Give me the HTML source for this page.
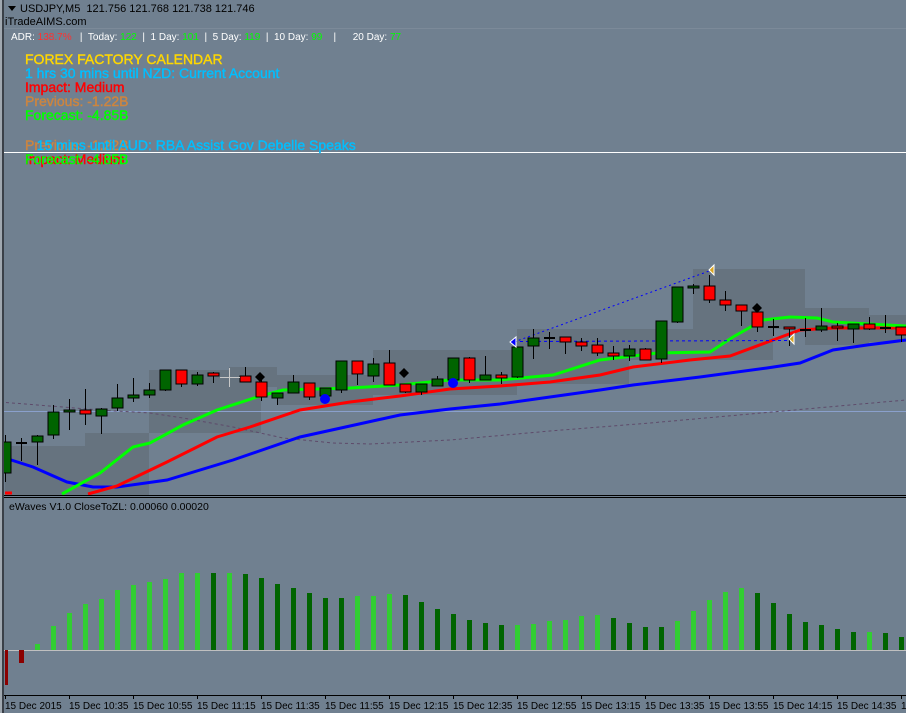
<!DOCTYPE html>
<html><head><meta charset="utf-8"><style>
html,body{margin:0;padding:0;background:#708090;overflow:hidden}
svg{display:block}
text{font-family:"Liberation Sans",Arial,sans-serif;white-space:pre}
</style></head><body>
<svg width="906" height="713" viewBox="0 0 906 713" xmlns="http://www.w3.org/2000/svg" xml:space="preserve">
<rect width="906" height="713" fill="#708090"/>
<g fill="#66737f">
<rect x="5" y="446" width="80" height="49"/>
<rect x="85" y="433" width="64" height="62"/>
<rect x="149" y="370" width="112" height="63"/>
<rect x="229" y="367" width="48" height="20"/>
<rect x="277" y="375" width="96" height="30"/>
<rect x="373" y="350" width="144" height="45"/>
<rect x="517" y="329" width="112" height="55"/>
<rect x="629" y="329" width="144" height="31"/>
<rect x="693" y="269" width="112" height="60"/>
<rect x="805" y="308" width="64" height="37"/>
<rect x="869" y="315" width="37" height="27"/>
</g>
<line x1="4" y1="28.5" x2="906" y2="28.5" stroke="#7c8a99" stroke-width="1"/>
<line x1="0" y1="152.5" x2="906" y2="152.5" stroke="#ffffff" stroke-width="1"/>
<line x1="0" y1="411.5" x2="906" y2="411.5" stroke="#8aa0cc" stroke-width="1"/>
<polyline fill="none" stroke="#5e4a6a" stroke-width="1" stroke-dasharray="3,3" points="0,402 100,410 150,413 183,418 233,427 283,438 333,443 370,444 450,440 550,431 650,423 750,414 850,405 906,400"/>
<polyline fill="none" stroke="#0000ff" stroke-width="3" points="5,458 33,467 67,482 93,487 117,487 167,480 233,460 300,437 350,426 400,415 450,409 500,404 550,397 600,390 633,385 700,377 767,368 800,363 833,350 867,345 906,340"/>
<polyline fill="none" stroke="#ff0000" stroke-width="3" points="88,494 117,486 167,462 217,437 250,427 300,410 350,402 400,396 450,389 500,386 550,382 600,375 633,367 690,360 730,356 773,340 800,330 833,328 906,328"/>
<line x1="5" y1="493" x2="12" y2="493" stroke="#ff0000" stroke-width="3"/>
<polyline fill="none" stroke="#00ff00" stroke-width="3" points="62,494 100,473 133,447 150,443 183,425 217,410 257,397 283,390 350,388 400,385 450,380 500,380 553,375 600,360 657,353 710,352 733,337 763,320 790,317 817,318 833,322 906,326"/>
<line x1="514" y1="342" x2="712" y2="270" stroke="#0000ff" stroke-width="1" stroke-dasharray="2,3"/>
<line x1="514" y1="341.5" x2="790" y2="340.5" stroke="#0000ff" stroke-width="1" stroke-dasharray="3,3"/>
<g stroke="#000" stroke-width="1">
<line x1="5.5" y1="435" x2="5.5" y2="482"/><rect x="0" y="442" width="11" height="31" fill="#006400"/>
<line x1="21.5" y1="438" x2="21.5" y2="461"/><line x1="16" y1="443" x2="27" y2="443" stroke-width="2"/>
<line x1="37.5" y1="435" x2="37.5" y2="465"/><rect x="32" y="436" width="11" height="6" fill="#006400"/>
<line x1="53.5" y1="405" x2="53.5" y2="439"/><rect x="48" y="412" width="11" height="23" fill="#006400"/>
<line x1="69.5" y1="399" x2="69.5" y2="430"/><rect x="64" y="410" width="11" height="2" fill="#006400"/>
<line x1="85.5" y1="389" x2="85.5" y2="425"/><rect x="80" y="410" width="11" height="4" fill="#ff0000"/>
<line x1="101.5" y1="408" x2="101.5" y2="434"/><rect x="96" y="409" width="11" height="7" fill="#006400"/>
<line x1="117.5" y1="384" x2="117.5" y2="411"/><rect x="112" y="398" width="11" height="10" fill="#006400"/>
<line x1="133.5" y1="378" x2="133.5" y2="402"/><rect x="128" y="395" width="11" height="3" fill="#006400"/>
<line x1="149.5" y1="383" x2="149.5" y2="398"/><rect x="144" y="390" width="11" height="5" fill="#006400"/>
<line x1="165.5" y1="370" x2="165.5" y2="391"/><rect x="160" y="370" width="11" height="20" fill="#006400"/>
<line x1="181.5" y1="370" x2="181.5" y2="387"/><rect x="176" y="370" width="11" height="14" fill="#ff0000"/>
<line x1="197.5" y1="372" x2="197.5" y2="386"/><rect x="192" y="375" width="11" height="9" fill="#006400"/>
<line x1="213.5" y1="372" x2="213.5" y2="383"/><rect x="208" y="373" width="11" height="3" fill="#ff0000"/>
<line x1="245.5" y1="367" x2="245.5" y2="382"/><rect x="240" y="376" width="11" height="6" fill="#ff0000"/>
<line x1="261.5" y1="377" x2="261.5" y2="401"/><rect x="256" y="382" width="11" height="15" fill="#ff0000"/>
<line x1="277.5" y1="393" x2="277.5" y2="405"/><rect x="272" y="393" width="11" height="5" fill="#006400"/>
<line x1="293.5" y1="375" x2="293.5" y2="393"/><rect x="288" y="382" width="11" height="11" fill="#006400"/>
<line x1="309.5" y1="383" x2="309.5" y2="400"/><rect x="304" y="383" width="11" height="14" fill="#ff0000"/>
<line x1="325.5" y1="388" x2="325.5" y2="396"/><rect x="320" y="388" width="11" height="8" fill="#006400"/>
<line x1="341.5" y1="361" x2="341.5" y2="393"/><rect x="336" y="361" width="11" height="29" fill="#006400"/>
<line x1="357.5" y1="361" x2="357.5" y2="385"/><rect x="352" y="361" width="11" height="13" fill="#ff0000"/>
<line x1="373.5" y1="358" x2="373.5" y2="382"/><rect x="368" y="364" width="11" height="12" fill="#006400"/>
<line x1="389.5" y1="350" x2="389.5" y2="385"/><rect x="384" y="363" width="11" height="22" fill="#ff0000"/>
<line x1="405.5" y1="384" x2="405.5" y2="393"/><rect x="400" y="384" width="11" height="8" fill="#ff0000"/>
<line x1="421.5" y1="384" x2="421.5" y2="395"/><rect x="416" y="384" width="11" height="8" fill="#006400"/>
<line x1="437.5" y1="376" x2="437.5" y2="386"/><rect x="432" y="379" width="11" height="7" fill="#006400"/>
<line x1="453.5" y1="358" x2="453.5" y2="380"/><rect x="448" y="358" width="11" height="22" fill="#006400"/>
<line x1="469.5" y1="357" x2="469.5" y2="383"/><rect x="464" y="358" width="11" height="22" fill="#ff0000"/>
<line x1="485.5" y1="356" x2="485.5" y2="380"/><rect x="480" y="375" width="11" height="5" fill="#006400"/>
<line x1="501.5" y1="372" x2="501.5" y2="384"/><rect x="496" y="375" width="11" height="3" fill="#ff0000"/>
<line x1="517.5" y1="347" x2="517.5" y2="378"/><rect x="512" y="347" width="11" height="30" fill="#006400"/>
<line x1="533.5" y1="329" x2="533.5" y2="359"/><rect x="528" y="338" width="11" height="8" fill="#006400"/>
<line x1="549.5" y1="332" x2="549.5" y2="349"/><line x1="544" y1="338" x2="555" y2="338" stroke-width="2"/>
<line x1="565.5" y1="337" x2="565.5" y2="354"/><rect x="560" y="337" width="11" height="5" fill="#ff0000"/>
<line x1="581.5" y1="338" x2="581.5" y2="351"/><rect x="576" y="342" width="11" height="4" fill="#ff0000"/>
<line x1="597.5" y1="338" x2="597.5" y2="356"/><rect x="592" y="345" width="11" height="8" fill="#ff0000"/>
<line x1="613.5" y1="346" x2="613.5" y2="360"/><rect x="608" y="353" width="11" height="3" fill="#ff0000"/>
<line x1="629.5" y1="345" x2="629.5" y2="361"/><rect x="624" y="349" width="11" height="7" fill="#006400"/>
<line x1="645.5" y1="348" x2="645.5" y2="360"/><rect x="640" y="349" width="11" height="11" fill="#ff0000"/>
<line x1="661.5" y1="321" x2="661.5" y2="363"/><rect x="656" y="321" width="11" height="38" fill="#006400"/>
<line x1="677.5" y1="287" x2="677.5" y2="323"/><rect x="672" y="287" width="11" height="35" fill="#006400"/>
<line x1="693.5" y1="284" x2="693.5" y2="294"/><rect x="688" y="286" width="11" height="2" fill="#006400"/>
<line x1="709.5" y1="275" x2="709.5" y2="303"/><rect x="704" y="286" width="11" height="14" fill="#ff0000"/>
<line x1="725.5" y1="291" x2="725.5" y2="311"/><rect x="720" y="300" width="11" height="5" fill="#ff0000"/>
<line x1="741.5" y1="305" x2="741.5" y2="326"/><rect x="736" y="305" width="11" height="6" fill="#ff0000"/>
<line x1="757.5" y1="304" x2="757.5" y2="332"/><rect x="752" y="312" width="11" height="15" fill="#ff0000"/>
<line x1="773.5" y1="319" x2="773.5" y2="336"/><line x1="768" y1="327" x2="779" y2="327" stroke-width="2"/>
<line x1="789.5" y1="327" x2="789.5" y2="346"/><rect x="784" y="327" width="11" height="2" fill="#ff0000"/>
<line x1="805.5" y1="318" x2="805.5" y2="337"/><line x1="800" y1="330" x2="811" y2="330" stroke-width="2"/>
<line x1="821.5" y1="308" x2="821.5" y2="332"/><rect x="816" y="326" width="11" height="4" fill="#006400"/>
<line x1="837.5" y1="323" x2="837.5" y2="341"/><rect x="832" y="326" width="11" height="2" fill="#ff0000"/>
<line x1="853.5" y1="324" x2="853.5" y2="343"/><rect x="848" y="324" width="11" height="5" fill="#006400"/>
<line x1="869.5" y1="317" x2="869.5" y2="330"/><rect x="864" y="324" width="11" height="5" fill="#ff0000"/>
<line x1="885.5" y1="315" x2="885.5" y2="333"/><line x1="880" y1="328" x2="891" y2="328" stroke-width="2"/>
<line x1="901.5" y1="327" x2="901.5" y2="342"/><rect x="896" y="327" width="11" height="8" fill="#ff0000"/>
</g>
<g stroke="#c8c8c8" stroke-width="1"><line x1="220" y1="377.5" x2="240" y2="377.5"/><line x1="229.5" y1="368" x2="229.5" y2="387"/></g>
<g fill="#000"><polygon points="260,372 265,377 260,382 255,377"/><polygon points="404,368 409,373 404,378 399,373"/><polygon points="757,303 762,308 757,313 752,308"/></g>
<circle cx="325" cy="399" r="5" fill="#0000ff"/>
<circle cx="453" cy="383" r="5" fill="#0000ff"/>
<polygon points="510,342 516,337 516,347" fill="#0000ff" stroke="#fff" stroke-width="1"/>
<polygon points="709,270 714,265 714,275" fill="#daa520" stroke="#fff" stroke-width="1"/>
<polygon points="789,339 794,334 794,344" fill="#daa520" stroke="#fff" stroke-width="1"/>
<polygon points="8,6 16,6 12,11" fill="#000"/>
<text x="20" y="12" font-size="11" fill="#000">USDJPY,M5  121.756 121.768 121.738 121.746</text>
<text x="5" y="25" font-size="11" fill="#000">iTradeAIMS.com</text>
<text x="11" y="40" font-size="10" fill="#fff">ADR: <tspan fill="#ff3030">138.7%</tspan>   |  Today: <tspan fill="#00ff00">122</tspan>  |  1 Day: <tspan fill="#00ff00">101</tspan>  |  5 Day: <tspan fill="#00ff00">119</tspan>  |  10 Day: <tspan fill="#00ff00">99</tspan>    |      20 Day: <tspan fill="#00ff00">77</tspan></text>
<g font-size="14" stroke-width="0.4">
<text x="25" y="64" fill="#ffd700" stroke="#ffd700">FOREX FACTORY CALENDAR</text>
<text x="25" y="78" fill="#00bfff" stroke="#00bfff">1 hrs 30 mins until NZD: Current Account</text>
<text x="25" y="92" fill="#ff0000" stroke="#ff0000">Impact: Medium</text>
<text x="25" y="106" fill="#cd853f" stroke="#cd853f">Previous: -1.22B</text>
<text x="25" y="120" fill="#00ff00" stroke="#00ff00">Forecast: -4.85B</text>
<text x="25" y="150" fill="#cd853f" stroke="#cd853f">Previous: -1.22B</text>
<text x="25" y="150" fill="#00bfff" stroke="#00bfff">   15 mins until AUD: RBA Assist Gov Debelle Speaks</text>
<text x="25" y="164" fill="#ff0000" stroke="#ff0000">Impact: Medium</text>
<text x="25" y="164" fill="#00ff00" stroke="#00ff00">Forecast: -4.85B</text>
</g>
<line x1="0" y1="495.5" x2="906" y2="495.5" stroke="#000"/>
<line x1="0" y1="497.5" x2="906" y2="497.5" stroke="#000"/>
<text x="9" y="510" font-size="10.5" fill="#000">eWaves V1.0 CloseToZL: 0.00060 0.00020</text>
<line x1="4" y1="650.5" x2="906" y2="650.5" stroke="#c0c0c0"/>
<g fill="#8b0000"><rect x="5" y="650" width="3" height="35"/><rect x="19" y="650" width="5" height="13"/></g>
<g fill="#32cd32">
<rect x="35" y="644" width="5" height="6"/><rect x="51" y="626" width="5" height="24"/><rect x="67" y="613" width="5" height="37"/><rect x="83" y="604" width="5" height="46"/><rect x="99" y="599" width="5" height="51"/><rect x="115" y="590" width="5" height="60"/><rect x="131" y="585" width="5" height="65"/><rect x="147" y="582" width="5" height="68"/><rect x="163" y="579" width="5" height="71"/><rect x="179" y="573" width="5" height="77"/><rect x="195" y="573" width="5" height="77"/><rect x="227" y="573" width="5" height="77"/>
<rect x="355" y="596" width="5" height="54"/><rect x="371" y="596" width="5" height="54"/><rect x="387" y="594" width="5" height="56"/>
<rect x="515" y="625" width="5" height="25"/><rect x="531" y="624" width="5" height="26"/><rect x="547" y="621" width="5" height="29"/><rect x="563" y="620" width="5" height="30"/><rect x="579" y="616" width="5" height="34"/><rect x="595" y="615" width="5" height="35"/>
<rect x="675" y="621" width="5" height="29"/><rect x="691" y="611" width="5" height="39"/><rect x="707" y="600" width="5" height="50"/><rect x="723" y="592" width="5" height="58"/><rect x="739" y="588" width="5" height="62"/><rect x="867" y="632" width="5" height="18"/>
</g>
<g fill="#006400">
<rect x="211" y="573" width="5" height="77"/><rect x="243" y="574" width="5" height="76"/><rect x="259" y="578" width="5" height="72"/><rect x="275" y="584" width="5" height="66"/><rect x="291" y="588" width="5" height="62"/><rect x="307" y="593" width="5" height="57"/><rect x="323" y="598" width="5" height="52"/><rect x="339" y="598" width="5" height="52"/>
<rect x="403" y="595" width="5" height="55"/><rect x="419" y="602" width="5" height="48"/><rect x="435" y="609" width="5" height="41"/><rect x="451" y="614" width="5" height="36"/><rect x="467" y="620" width="5" height="30"/><rect x="483" y="623" width="5" height="27"/><rect x="499" y="625" width="5" height="25"/>
<rect x="611" y="618" width="5" height="32"/><rect x="627" y="623" width="5" height="27"/><rect x="643" y="627" width="5" height="23"/><rect x="659" y="627" width="5" height="23"/>
<rect x="755" y="593" width="5" height="57"/><rect x="771" y="603" width="5" height="47"/><rect x="787" y="614" width="5" height="36"/><rect x="803" y="622" width="5" height="28"/><rect x="819" y="625" width="5" height="25"/><rect x="835" y="629" width="5" height="21"/><rect x="851" y="632" width="5" height="18"/><rect x="883" y="633" width="5" height="17"/><rect x="899" y="637" width="5" height="13"/>
</g>
<line x1="4" y1="695.5" x2="906" y2="695.5" stroke="#000"/>
<g stroke="#000">
<line x1="5.5" y1="695" x2="5.5" y2="699"/><line x1="69.5" y1="695" x2="69.5" y2="699"/><line x1="133.5" y1="695" x2="133.5" y2="699"/><line x1="197.5" y1="695" x2="197.5" y2="699"/><line x1="261.5" y1="695" x2="261.5" y2="699"/><line x1="325.5" y1="695" x2="325.5" y2="699"/><line x1="389.5" y1="695" x2="389.5" y2="699"/><line x1="453.5" y1="695" x2="453.5" y2="699"/><line x1="517.5" y1="695" x2="517.5" y2="699"/><line x1="581.5" y1="695" x2="581.5" y2="699"/><line x1="645.5" y1="695" x2="645.5" y2="699"/><line x1="709.5" y1="695" x2="709.5" y2="699"/><line x1="773.5" y1="695" x2="773.5" y2="699"/><line x1="837.5" y1="695" x2="837.5" y2="699"/><line x1="901.5" y1="695" x2="901.5" y2="699"/>
</g>
<g font-size="10" fill="#000">
<text x="5" y="709">15 Dec 2015</text><text x="69" y="709">15 Dec 10:35</text><text x="133" y="709">15 Dec 10:55</text><text x="197" y="709">15 Dec 11:15</text><text x="261" y="709">15 Dec 11:35</text><text x="325" y="709">15 Dec 11:55</text><text x="389" y="709">15 Dec 12:15</text><text x="453" y="709">15 Dec 12:35</text><text x="517" y="709">15 Dec 12:55</text><text x="581" y="709">15 Dec 13:15</text><text x="645" y="709">15 Dec 13:35</text><text x="709" y="709">15 Dec 13:55</text><text x="773" y="709">15 Dec 14:15</text><text x="837" y="709">15 Dec 14:35</text><text x="901" y="709">15</text>
</g>
<rect x="0" y="0" width="2" height="713" fill="#a0a8b0"/>
<rect x="2" y="0" width="2" height="713" fill="#3a4048"/>
</svg>
</body></html>
